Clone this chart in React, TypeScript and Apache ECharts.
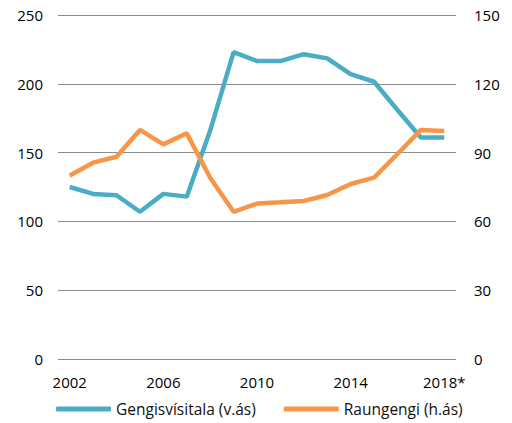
import React, { useEffect, useRef } from "react";
import * as echarts from "echarts";

const years = ["2002","2003","2004","2005","2006","2007","2008","2009","2010","2011","2012","2013","2014","2015","2016","2017","2018*"];
const gengisvisitala = [125, 120, 119, 107, 120, 118, 166, 223, 216.5, 216.5, 221.5, 218.5, 207, 201.5, 181, 161, 161];
const raungengi = [80, 85.6, 88.2, 99.9, 93.6, 98.4, 79, 64.2, 67.8, 68.3, 68.9, 71.5, 76.3, 79.1, 89.4, 99.9, 99.4];
const leftTicks = { min: 0, max: 250, interval: 50 };
const rightTicks = { min: 0, max: 150, interval: 30 };

const FONT = "'Open Sans', 'Noto Sans', sans-serif";

export default function App() {
  const ref = useRef<HTMLDivElement>(null);
  useEffect(() => {
    if (!ref.current) return;
    const chart = echarts.init(ref.current, undefined, { renderer: "svg" });
    chart.setOption({
      animation: false,
      textStyle: { fontFamily: FONT },
      grid: { left: 58, right: 56, top: 15, bottom: 64 },
      legend: {
        bottom: 1,
        left: 51,
        itemWidth: 55,
        itemHeight: 5,
        itemGap: 28,
        icon: "roundRect",
        textStyle: { fontSize: 15.5, color: "#111", fontFamily: FONT },
        data: ["Gengisvísitala (v.ás)", "Raungengi (h.ás)"],
      },
      xAxis: {
        type: "category",
        data: years,
        boundaryGap: true,
        axisLine: { show: false },
        axisTick: { show: false },
        axisLabel: { interval: 3, fontSize: 15, color: "#000", margin: 15, fontFamily: FONT },
      },
      yAxis: [
        {
          type: "value",
          ...leftTicks,
          axisLine: { show: false },
          axisTick: { show: false },
          axisLabel: { fontSize: 15, color: "#000", margin: 15, fontFamily: FONT },
          splitLine: { lineStyle: { color: "#8c8c8c", width: 1 } },
        },
        {
          type: "value",
          ...rightTicks,
          axisLine: { show: false },
          axisTick: { show: false },
          axisLabel: { fontSize: 15, color: "#000", margin: 18, fontFamily: FONT },
          splitLine: { show: false },
        },
      ],
      series: [
        {
          name: "Gengisvísitala (v.ás)",
          type: "line",
          yAxisIndex: 0,
          data: gengisvisitala,
          symbol: "none",
          lineStyle: { color: "#4bacc6", width: 4.5 },
          itemStyle: { color: "#4bacc6" },
        },
        {
          name: "Raungengi (h.ás)",
          type: "line",
          yAxisIndex: 1,
          data: raungengi,
          symbol: "none",
          lineStyle: { color: "#f79646", width: 4.5 },
          itemStyle: { color: "#f79646" },
        },
      ],
    });
    return () => chart.dispose();
  }, []);
  return <div ref={ref} style={{ width: 512, height: 423, position: "absolute", left: 0, top: 0 }} />;
}
